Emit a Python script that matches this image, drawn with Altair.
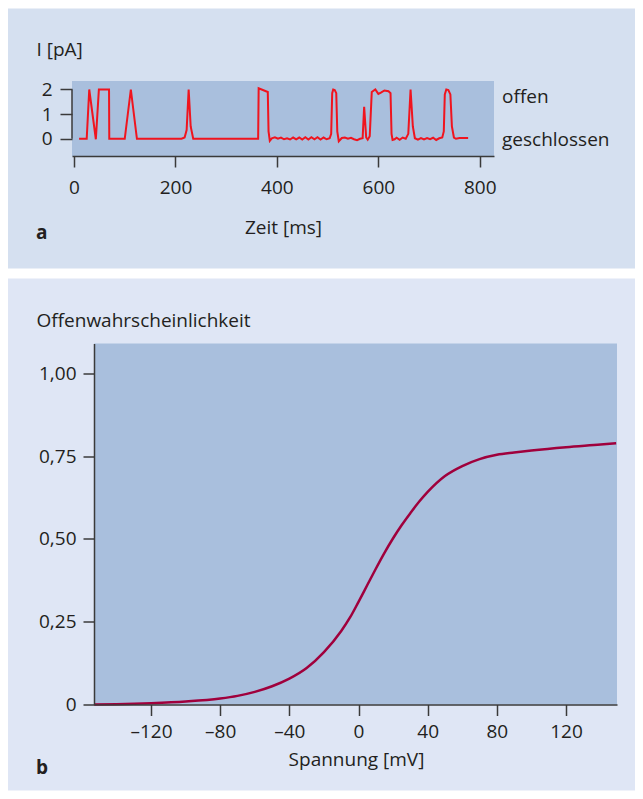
import altair as alt
import pandas as pd

# ---------------- Panel a: single-channel current recording ----------------
time_ms = [10, 25, 30, 43, 49, 69, 69.5, 100, 112, 124, 212, 218, 222, 226, 230, 235,
           363, 364, 382, 383.5, 386, 390, 396, 402, 408, 414, 420, 426, 432, 438, 444,
           450, 456, 462, 468, 474, 480, 486, 492, 498, 504, 507, 509, 511, 514, 517,
           519, 522, 528, 534, 540, 546, 552, 558, 564, 569, 572, 576, 579, 583, 587,
           594, 600, 605, 612, 620, 624, 626, 628, 632, 636, 642, 648, 654, 659, 663.5,
           668, 672, 678, 684, 690, 696, 702, 708, 714, 720, 726, 729, 731, 734, 738,
           742, 745, 749, 753, 760, 777]
current_pa = [0, 0, 2, -0.02, 2, 2, 0, 0, 2, 0, 0, 0.05, 0.35, 2, 0.5, 0,
              0, 2.05, 1.9, 0.3, -0.08, 0.02, 0.06, 0.0, 0.05, -0.02, 0.02, -0.03, 0.05, -0.02, 0.05,
              -0.03, 0.06, -0.03, 0.06, -0.02, 0.06, -0.03, 0.05, -0.02, 0.02, 0.2, 1.85, 2.0, 1.98, 1.85,
              0.3, -0.1, 0.03, 0.05, 0.0, 0.04, -0.02, -0.06, 0.0, 0.02, 1.3, 0.05, -0.04, 0.1, 1.9,
              2.0, 1.82, 1.87, 1.96, 1.93, 1.85, 0.2, -0.05, -0.02, 0.04, -0.04, 0.05, 0.0, 0.2, 2.0,
              0.5, 0.02, -0.04, 0.03, -0.03, 0.03, -0.02, 0.04, -0.05, 0.02, 0.05, 0.3, 1.8, 2.0, 1.98,
              1.8, 0.5, 0.05, 0.0, 0.03, 0.03]
time_ticks = [0, 200, 400, 600, 800]
current_ticks = [0, 1, 2]
state_names = ["offen", "geschlossen"]

# ---------------- Panel b: open probability vs. membrane voltage ----------------
voltage_mv = [-153, -140, -120, -100, -80, -70, -60, -50, -40, -30, -20, -10, -5, 0, 5, 10,
              15, 20, 25, 30, 35, 40, 50, 60, 70, 80, 90, 100, 120, 140, 149]
open_prob = [0.0, 0.001, 0.004, 0.009, 0.018, 0.026, 0.038, 0.055, 0.078, 0.110, 0.158, 0.222,
             0.262, 0.31, 0.36, 0.41, 0.458, 0.502, 0.542, 0.578, 0.612, 0.642, 0.69, 0.72,
             0.741, 0.754, 0.761, 0.767, 0.777, 0.785, 0.789]
voltage_ticks = [-120, -80, -40, 0, 40, 80, 120]
prob_ticks = [0, 0.25, 0.5, 0.75, 1.0]

panel_letters = ["a", "b"]
titles_a = ["Zeit [ms]", "I [pA]"]
titles_b = ["Spannung [mV]", "Offenwahrscheinlichkeit"]

# ---------------- styling / geometry ----------------
FONT = "Open Sans"
TXT = "#231f20"
AX = "#3a3a3a"
PANEL_A = "#d5e0f0"
PANEL_B = "#dfe6f5"
PLOT = "#a9bfdd"
RED = "#f0141e"
WINE = "#a0003c"
FS = 19

LEFT = 64          # svg x of both view origins
FULL_W = 627
A_TOP, WA, HA = 72.5, 422, 75
B_TOP, WB, HB, B_X0 = 335, 545, 361, 22
PANEL_A_BOTTOM = 260
PANEL_B_TOP, PANEL_B_BOTTOM = 270, 782

one = pd.DataFrame({"k": [0]})
trace_df = pd.DataFrame({"t": time_ms, "I": current_pa})
curve_df = pd.DataFrame({"V": voltage_mv, "P": open_prob})
range_df = pd.DataFrame({"I": [current_ticks[0]], "I2": [current_ticks[-1]]})

# ---------------- panel a ----------------
bg_a = alt.Chart(one).mark_rect(color=PANEL_A).encode(
    x=alt.value(-LEFT), x2=alt.value(FULL_W - LEFT),
    y=alt.value(-A_TOP), y2=alt.value(PANEL_A_BOTTOM - A_TOP))
plot_a = alt.Chart(one).mark_rect(color=PLOT).encode(
    x=alt.value(0), x2=alt.value(WA), y=alt.value(0), y2=alt.value(HA))

y_scale_a = alt.Scale(domain=[-0.7, 2.345], nice=False, zero=False)
y_axis_a = alt.Axis(values=current_ticks, title=titles_a[1], grid=False, domain=False,
                    labelOverlap=False,
                    tickColor=AX, tickWidth=1.5, tickSize=12, labelPadding=8,
                    labelFont=FONT, labelFontSize=FS, labelColor=TXT,
                    titleFont=FONT, titleFontSize=FS, titleFontWeight="normal",
                    titleColor=TXT, titleAngle=0, titleAlign="left",
                    titleBaseline="middle", titleX=-36, titleY=-31.5, zindex=1)

trace = alt.Chart(trace_df).mark_line(color=RED, strokeWidth=2).encode(
    x=alt.X("t:Q", scale=alt.Scale(domain=[-4, 828], nice=False, zero=False),
            axis=alt.Axis(values=time_ticks, title=titles_a[0], grid=False,
                          domainColor=AX, domainWidth=1.5, tickColor=AX, tickWidth=1.5,
                          tickSize=11, labelPadding=11, labelFont=FONT, labelFontSize=FS,
                          labelColor=TXT, titleFont=FONT, titleFontSize=FS,
                          titleFontWeight="normal", titleColor=TXT, titleY=71,
                          titleBaseline="middle", zindex=1)),
    y=alt.Y("I:Q", scale=y_scale_a, axis=y_axis_a),
)
axis_line_a = alt.Chart(range_df).mark_rule(color=AX, strokeWidth=1.5).encode(
    x=alt.value(0), y=alt.Y("I:Q", scale=y_scale_a, axis=y_axis_a), y2="I2:Q")

txt_open = alt.Chart(one).mark_text(text=state_names[0], font=FONT, fontSize=FS, color=TXT,
                                    align="left", baseline="alphabetic").encode(
    x=alt.value(WA + 8), y=alt.value(21.5))
txt_closed = alt.Chart(one).mark_text(text=state_names[1], font=FONT, fontSize=FS, color=TXT,
                                      align="left", baseline="alphabetic").encode(
    x=alt.value(WA + 8), y=alt.value(64.5))
letter_a = alt.Chart(one).mark_text(text=panel_letters[0], font=FONT, fontSize=FS,
                                    fontWeight="bold", color=TXT, align="left",
                                    baseline="middle").encode(
    x=alt.value(-36), y=alt.value(151.5))

panel_a = alt.layer(bg_a, plot_a, trace, axis_line_a, txt_open, txt_closed, letter_a).properties(
    width=WA, height=HA)

# ---------------- panel b ----------------
bg_b = alt.Chart(one).mark_rect(color=PANEL_B).encode(
    x=alt.value(-LEFT), x2=alt.value(FULL_W - LEFT),
    y=alt.value(PANEL_B_TOP - B_TOP), y2=alt.value(PANEL_B_BOTTOM - B_TOP))
plot_b = alt.Chart(one).mark_rect(color=PLOT).encode(
    x=alt.value(B_X0), x2=alt.value(WB), y=alt.value(0), y2=alt.value(HB))

curve = alt.Chart(curve_df).mark_line(color=WINE, strokeWidth=2.5, interpolate="monotone").encode(
    x=alt.X("V:Q", scale=alt.Scale(domain=[-153, 149.5], range=[B_X0, WB], nice=False, zero=False),
            axis=alt.Axis(values=voltage_ticks, title=titles_b[0], grid=False,
                          labelExpr="datum.value < 0 ? '\u2013' + abs(datum.value) : '' + datum.value",
                          domainColor=AX, domainWidth=1.5, tickColor=AX, tickWidth=1.5,
                          tickSize=11, labelPadding=7, labelFont=FONT, labelFontSize=FS,
                          labelColor=TXT, titleFont=FONT, titleFontSize=FS,
                          titleFontWeight="normal", titleColor=TXT, titleY=55, titleX=284,
                          titleBaseline="middle", zindex=1)),
    y=alt.Y("P:Q", scale=alt.Scale(domain=[0, 1.09], nice=False, zero=False),
            axis=alt.Axis(values=prob_ticks, title=titles_b[1], grid=False, offset=-B_X0,
                          labelExpr="datum.value == 0 ? '0' : replace(format(datum.value, '.2f'), '.', ',')",
                          domainColor=AX, domainWidth=1.5, tickColor=AX, tickWidth=1.5,
                          tickSize=11, labelPadding=7, labelFont=FONT, labelFontSize=FS,
                          labelColor=TXT, titleFont=FONT, titleFontSize=FS,
                          titleFontWeight="normal", titleColor=TXT, titleAngle=0,
                          titleAlign="left", titleBaseline="middle", titleX=-58, titleY=-23,
                          zindex=1)),
)
letter_b = alt.Chart(one).mark_text(text=panel_letters[1], font=FONT, fontSize=FS,
                                    fontWeight="bold", color=TXT, align="left",
                                    baseline="middle").encode(
    x=alt.value(-36), y=alt.value(424))

panel_b = alt.layer(bg_b, plot_b, curve, letter_b).properties(width=WB, height=HB)

chart = alt.vconcat(panel_a, panel_b, spacing=B_TOP - A_TOP - HA, bounds="flush").properties(
    padding=0, background="white").configure_view(strokeWidth=0)

chart.save("out.html", embed_options={"renderer": "svg", "actions": False})
